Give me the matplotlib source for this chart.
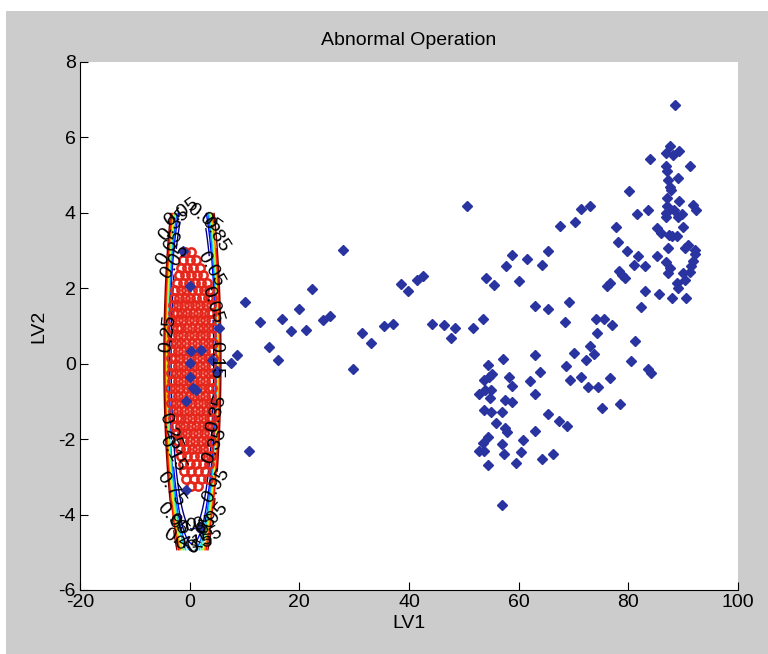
import numpy as np
import matplotlib
matplotlib.use("Agg")
import matplotlib.pyplot as plt
from matplotlib.patches import Rectangle

plt.rcParams['font.family'] = ['Liberation Sans', 'DejaVu Sans']
plt.rcParams['axes.unicode_minus'] = False

# blue diamonds: abnormal samples (LV1, LV2)
abn_lv1 = [88.5, 87.6, 86.8, 88.2, 89.2, 83.9, 91.2, 86.8, 87.1, 89.0,
           87.3, 87.6, 87.8, 80.2, 87.0, 89.2, 91.8, 87.0, 92.4, 88.4,
           86.8, 81.5, 83.5, 89.7, 89.1, 86.8, 73.0, 71.4, 50.6, 67.6,
           70.3, 77.8, 90.0, 85.3, 85.9, 87.4, 88.0, 88.8, 78.1, 90.9,
           87.3, 90.4, 92.1, 92.2, 79.7, 81.8, 85.3, 58.8, 61.5, 65.3,
           86.8, 91.8, 91.4, 57.7, 64.3, 81.0, 83.0, 87.6, 78.3, 78.8,
           79.4, 87.3, 90.0, 91.2, 90.4, 54.1, 55.5, 60.1, 76.7, 76.2,
           88.8, 89.0, 83.0, 85.6, 87.9, 90.6, 82.4, 62.9, 65.3, 69.2,
           68.4, 74.1, 75.5, 77.1, 74.2, 81.3, 73.0, 53.5, 51.6, 48.4,
           47.6, 46.4, 73.8, 70.0, 72.2, 62.9, 57.2, 54.4, 80.5, 68.6,
           83.5, 84.2, 55.2, 54.5, 53.6, 58.2, 63.8, 62.1, 69.4, 71.4,
           76.7, 58.8, 72.6, 74.4, 52.7, 53.9, 55.0, 62.9, 54.8, 57.5,
           58.8, 78.5, 75.2, 53.6, 55.0, 56.9, 65.3, 55.8, 67.4, 68.8,
           57.5, 57.9, 62.9, 54.4, 60.7, 53.5, 56.9, 52.7, 53.6, 57.3,
           60.5, 66.2, 64.2, 59.5, 54.4, 56.9,
           28.0, 10.0, 22.3, 38.5, 39.9, 41.5, 42.5, 12.9, 16.9, 20.0,
           18.5, 21.2, 24.4, 25.6, 14.5, 16.2, 8.6, 7.5, 5.3, 31.5,
           33.0, 29.7, 35.5, 37.1, 44.2, 10.8, 5.0,
           0.3, 2.1, 0.0, 4.0, 0.0, 0.6, 1.2, -0.6, 0.0, -1.2, -0.6, 1.8]
abn_lv2 = [6.87, 5.78, 5.59, 5.54, 5.63, 5.43, 5.24, 5.24, 5.11, 4.93,
           4.88, 4.69, 4.60, 4.59, 4.39, 4.31, 4.22, 4.19, 4.07, 4.08,
           4.00, 3.98, 4.07, 3.98, 3.89, 3.89, 4.19, 4.10, 4.19, 3.66,
           3.75, 3.62, 3.62, 3.59, 3.46, 3.42, 3.38, 3.38, 3.24, 3.16,
           3.07, 3.07, 3.02, 2.92, 2.98, 2.86, 2.85, 2.89, 2.77, 2.98,
           2.70, 2.72, 2.60, 2.58, 2.63, 2.63, 2.58, 2.54, 2.45, 2.36,
           2.27, 2.40, 2.40, 2.42, 2.23, 2.27, 2.10, 2.18, 2.14, 2.05,
           2.14, 2.01, 1.94, 1.86, 1.74, 1.74, 1.50, 1.54, 1.45, 1.63,
           1.10, 1.18, 1.18, 1.02, 0.81, 0.59, 0.46, 1.18, 0.95, 0.95,
           0.68, 1.03, 0.27, 0.28, 0.11, 0.24, 0.12, -0.03, 0.06, -0.05,
           -0.14, -0.25, -0.27, -0.35, -0.42, -0.34, -0.23, -0.47, -0.42, -0.34,
           -0.38, -0.58, -0.62, -0.62, -0.80, -0.71, -0.69, -0.80, -0.91, -0.97,
           -1.02, -1.06, -1.18, -1.22, -1.29, -1.29, -1.33, -1.58, -1.53, -1.66,
           -1.71, -1.82, -1.79, -1.95, -2.02, -2.09, -2.12, -2.32, -2.32, -2.39,
           -2.34, -2.39, -2.53, -2.64, -2.68, -3.74,
           3.02, 1.63, 1.98, 2.11, 1.94, 2.23, 2.33, 1.10, 1.18, 1.46,
           0.86, 0.90, 1.15, 1.27, 0.43, 0.11, 0.24, 0.02, 0.95, 0.81,
           0.55, -0.14, 0.99, 1.06, 1.06, -2.31, -0.20,
           0.33, 0.37, 0.02, 0.10, -0.34, -0.65, -0.69, -1.00, 2.05, 3.00, -3.34, -4.35]

# red circles: normal (training) samples, one row of LV1 values per LV2 level
red_lv2_rows = [2.95, 2.75, 2.55, 2.35, 2.15, 1.95, 1.75, 1.55, 1.35, 1.15,
                0.95, 0.75, 0.55, 0.35, 0.15, -0.05, -0.25, -0.45, -0.65, -0.85,
                -1.05, -1.25, -1.45, -1.65, -1.85, -2.05, -2.25, -2.45, -2.65, -2.85,
                -3.05, -3.25]
red_lv1_rows = [
    [-0.8, 0.3],
    [-1.2, 0.0, 1.1],
    [-1.6, -0.5, 0.6, 1.8],
    [-2.0, -0.9, 0.2, 1.3, 2.4],
    [-2.3, -1.3, -0.2, 0.9, 2.0, 3.1],
    [-2.6, -1.6, -0.6, 0.5, 1.6, 2.7, 3.6],
    [-2.8, -1.9, -0.9, 0.1, 1.2, 2.3, 3.3, 4.0],
    [-3.0, -2.1, -1.1, -0.1, 0.9, 1.9, 2.9, 3.8],
    [-3.1, -2.3, -1.4, -0.4, 0.6, 1.6, 2.6, 3.5, 4.1],
    [-3.2, -2.2, -1.2, -0.2, 0.8, 1.8, 2.8, 3.8],
    [-3.3, -2.4, -1.5, -0.5, 0.5, 1.5, 2.5, 3.4, 4.2],
    [-3.2, -2.2, -1.2, -0.2, 0.8, 1.8, 2.8, 3.8],
    [-3.4, -2.5, -1.6, -0.6, 0.4, 1.4, 2.4, 3.3, 4.2],
    [-3.2, -2.2, -1.2, -0.2, 0.8, 1.8, 2.8, 3.8],
    [-3.4, -2.6, -1.7, -0.7, 0.3, 1.3, 2.3, 3.3, 4.2],
    [-3.2, -2.2, -1.2, -0.2, 0.8, 1.8, 2.8, 3.8],
    [-3.4, -2.5, -1.6, -0.6, 0.4, 1.4, 2.4, 3.4, 4.2],
    [-3.3, -2.2, -1.2, -0.2, 0.8, 1.8, 2.8, 3.8],
    [-3.5, -2.6, -1.7, -0.7, 0.3, 1.3, 2.3, 3.3, 4.1],
    [-3.2, -2.2, -1.2, -0.2, 0.8, 1.8, 2.8, 3.8],
    [-3.4, -2.5, -1.5, -0.5, 0.5, 1.5, 2.5, 3.5, 4.2],
    [-3.1, -2.1, -1.1, -0.1, 0.9, 1.9, 2.9, 3.9],
    [-3.0, -2.4, -1.5, -0.5, 0.5, 1.5, 2.5, 3.5, 4.1],
    [-2.7, -1.8, -0.8, 0.2, 1.2, 2.2, 3.2, 4.0],
    [-2.4, -1.4, -0.4, 0.6, 1.6, 2.6, 3.6],
    [-2.1, -1.0, 0.0, 1.0, 2.0, 3.0, 3.9],
    [-1.8, -0.7, 0.4, 1.4, 2.4, 3.4],
    [-1.5, -0.4, 0.7, 1.8, 2.9, 3.8],
    [-1.3, 0.0, 1.2, 2.4, 3.5],
    [-1.0, 0.3, 1.6, 2.8],
    [-0.6, 0.8, 2.1, 3.3],
    [0.2, 1.6],
]

# confidence-region model around the normal cloud
region_lv1 = (-4.8, 5.8)
region_lv2 = (-4.95, 4.0)
center = (0.5, 0.1)
half_axes = (5.2, 6.0)
levels = [0.05, 0.15, 0.25, 0.35, 0.45, 0.55, 0.65, 0.75, 0.85, 0.95]

# where the contour labels sit
label_spots = [(-2.8, 3.7), (0.3, 3.8), (2.6, 3.8), (4.6, 3.4), (-3.6, 3.1),
               (-2.5, 2.6), (3.6, 2.4), (4.3, 1.6), (-3.9, 0.8), (4.8, 0.1),
               (4.8, -1.3), (-3.6, -1.8), (-3.0, -2.3), (4.6, -2.2), (-3.4, -3.3),
               (0.0, -3.0), (4.8, -3.2), (1.2, -3.8), (-3.6, -4.5), (-1.5, -4.7),
               (0.8, -4.8), (2.8, -4.7), (4.6, -4.5)]

red_lv1 = [x for row in red_lv1_rows for x in row]
red_lv2 = [y for y, row in zip(red_lv2_rows, red_lv1_rows) for _ in row]

gx, gy = np.meshgrid(np.linspace(*region_lv1, 240), np.linspace(*region_lv2, 240))
d = np.sqrt(((gx - center[0]) / half_axes[0]) ** 2 + ((gy - center[1]) / half_axes[1]) ** 2)
conf = 1 - np.exp(-3.0 * d ** 14)

fig = plt.figure(figsize=(7.68, 6.54), dpi=100, facecolor='white')
fig.patches.append(Rectangle((6 / 768, 0), 1, 643 / 654, transform=fig.transFigure,
                             facecolor='#cccccc', edgecolor='none', zorder=-10))
ax = fig.add_axes([80 / 768, 64 / 654, 658 / 768, 528 / 654])
ax.set_facecolor('white')

cs = ax.contour(gx, gy, conf, levels=levels, cmap='jet', linewidths=1.0, zorder=1)
ax.plot(red_lv1, red_lv2, 'o', mfc='none', mec='#e5261b', ms=6, mew=1.8, zorder=2)
ax.plot(abn_lv1, abn_lv2, 'D', color='#2a34a0', ms=4.7, zorder=3)
labels = ax.clabel(cs, fmt='%g', fontsize=14, colors='k', inline=True,
                   manual=label_spots)
for t in labels:
    t.set_zorder(4)

ax.set_xlim(-20, 100)
ax.set_ylim(-6, 8)
ax.set_xticks([-20, 0, 20, 40, 60, 80, 100])
ax.set_yticks([-6, -4, -2, 0, 2, 4, 6, 8])
ax.spines['top'].set_visible(False)
ax.spines['right'].set_visible(False)
ax.tick_params(direction='in', length=6, labelsize=14, pad=3)
ax.set_xlabel('LV1', fontsize=14, labelpad=3)
ax.set_ylabel('LV2', fontsize=14, labelpad=8)
ax.set_title('Abnormal Operation', fontsize=14, pad=12)

fig.savefig('out.png', dpi=100, facecolor=fig.get_facecolor())
